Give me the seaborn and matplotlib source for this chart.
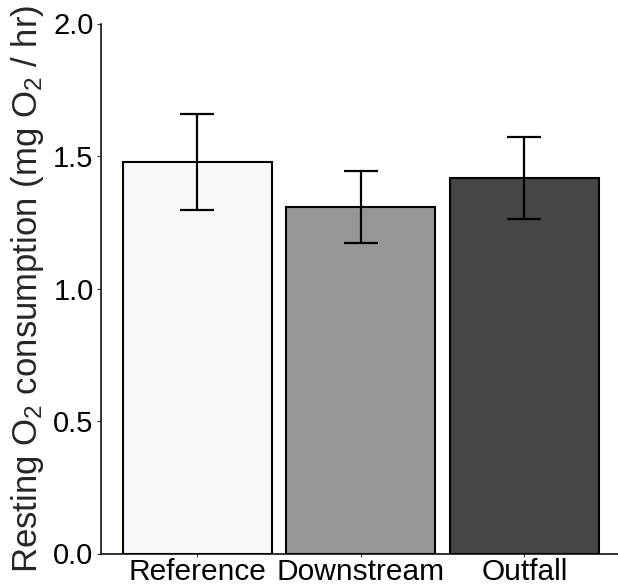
import matplotlib
matplotlib.use("Agg")
import matplotlib.pyplot as plt
import seaborn as sns
import pandas as pd
import numpy as np

sites = ["Reference", "Downstream", "Outfall"]
mean_o2 = [1.478, 1.306, 1.417]
err_low = [1.298, 1.171, 1.262]
err_high = [1.658, 1.443, 1.570]
bar_colors = ["#F7F8FD", "#969696", "#464646"]

sns.set_theme(style="white")
plt.rcParams['font.family'] = ['Liberation Sans', 'DejaVu Sans']
plt.rcParams['mathtext.fontset'] = 'custom'
plt.rcParams['mathtext.rm'] = 'Liberation Sans'
plt.rcParams['mathtext.it'] = 'Liberation Sans'

df = pd.DataFrame({"site": sites, "o2": mean_o2})

fig = plt.figure(figsize=(6.18, 5.86), dpi=100)
ax = fig.add_axes([100.5/618, 32.5/586, 517.5/618, 530/586])

sns.barplot(data=df, x="site", y="o2", hue="site", palette=bar_colors,
            order=sites, hue_order=sites, legend=False, width=0.91,
            edgecolor="black", linewidth=1.5, ax=ax, errorbar=None)

x = np.arange(len(sites))
m = np.array(mean_o2)
yerr = np.vstack([m - np.array(err_low), np.array(err_high) - m])
ax.errorbar(x, m, yerr=yerr, fmt="none", ecolor="black", elinewidth=1.6,
            capsize=12, capthick=1.6)

ax.set_xlim(-0.592, 2.572)
ax.set_ylim(0, 2.0)
ax.set_yticks([0, 0.5, 1.0, 1.5, 2.0])
ax.set_yticklabels(["0.0", "0.5", "1.0", "1.5", "2.0"])
ax.set_xlabel("")
ax.set_ylabel(r"Resting O$_2$ consumption (mg O$_2$ / hr)", fontsize=25, labelpad=5)
ax.tick_params(axis="y", labelsize=21, length=3, width=0.8, color="#333333",
               left=True, pad=2, labelcolor="black")
ax.tick_params(axis="x", labelsize=21.5, length=2.5, width=0.8, color="#333333",
               bottom=True, pad=0.5, labelcolor="black")
for s in ["top", "right"]:
    ax.spines[s].set_visible(False)
for s in ["left", "bottom"]:
    ax.spines[s].set_color("black")
    ax.spines[s].set_linewidth(1.1)

fig.savefig("out.png", dpi=100)
